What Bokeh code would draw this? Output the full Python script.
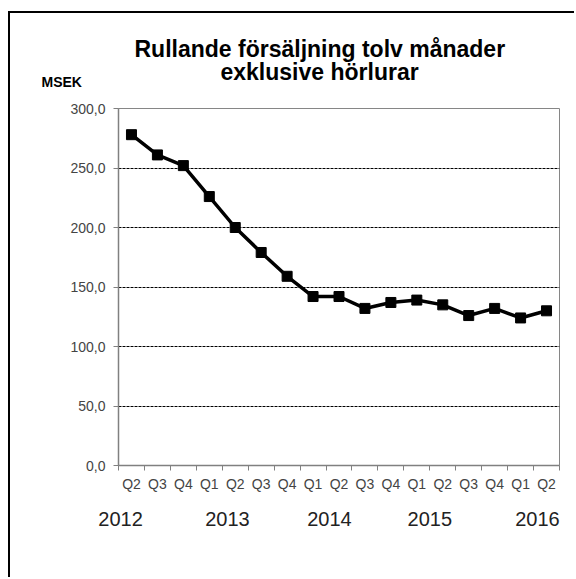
from bokeh.plotting import figure
from bokeh.models import FixedTicker, Range1d, Title, LinearAxis
from bokeh.embed import file_html
from bokeh.resources import INLINE
import numpy as np

quarters = ["Q2", "Q3", "Q4", "Q1", "Q2", "Q3", "Q4", "Q1", "Q2", "Q3", "Q4",
            "Q1", "Q2", "Q3", "Q4", "Q1", "Q2"]
sales = [278, 261, 252, 226, 200, 179, 159, 142, 142, 132, 137, 139, 135, 126, 132, 124, 130]
years = ["2012", "2013", "2014", "2015", "2016"]
year_pos = [-0.42, 3.7, 7.63, 11.5, 15.65]
y_ticks = [0, 50, 100, 150, 200, 250, 300]
unit_label = "MSEK"

x = np.arange(len(sales))

p = figure(width=566, height=566, output_backend="svg", toolbar_location=None,
           x_range=Range1d(-0.5, len(sales) - 0.5), y_range=Range1d(0, 300),
           min_border_left=108, min_border_right=17, min_border_top=95, min_border_bottom=114)
p.styles = {"border-top": "2px solid black", "border-left": "2px solid black",
            "margin-left": "8px", "margin-top": "11px"}
p.title.visible = False
p.background_fill_color = "white"
p.border_fill_color = "white"
p.outline_line_color = "#868686"
p.outline_line_width = 1

# grid
p.xgrid.visible = False
p.ygrid.ticker = FixedTicker(ticks=[50, 100, 150, 200, 250])
p.ygrid.grid_line_color = "black"
p.ygrid.grid_line_dash = "3 1"
p.ygrid.grid_line_width = 1

# y axis
p.yaxis.ticker = FixedTicker(ticks=y_ticks)
p.yaxis.major_label_overrides = {t: f"{t:.1f}".replace(".", ",") for t in y_ticks}
p.yaxis.major_tick_out = 5
p.yaxis.major_tick_in = 0
p.yaxis.minor_tick_out = 0
p.yaxis.minor_tick_in = 0
p.yaxis.major_label_standoff = 8
p.yaxis.axis_line_color = "#808080"
p.yaxis.axis_line_width = 1.5
p.yaxis.major_tick_line_color = "#808080"
p.yaxis.major_label_text_font = "Liberation Sans"
p.yaxis.major_label_text_font_size = "14px"
p.yaxis.major_label_text_color = "#444444"

# x axis (quarters)
centers = list(range(len(sales)))
bounds = [i - 0.5 for i in range(len(sales) + 1)]
p.xaxis.ticker = FixedTicker(ticks=centers, minor_ticks=bounds)
p.xaxis.major_label_overrides = {i: q for i, q in enumerate(quarters)}
p.xaxis.major_tick_out = 0
p.xaxis.major_tick_in = 0
p.xaxis.minor_tick_out = 5
p.xaxis.minor_tick_in = 0
p.xaxis.minor_tick_line_color = "#808080"
p.xaxis.major_label_standoff = 5
p.xaxis.axis_line_color = "#808080"
p.xaxis.axis_line_width = 1.5
p.xaxis.major_label_text_font = "Liberation Sans"
p.xaxis.major_label_text_font_size = "14px"
p.xaxis.major_label_text_color = "#444444"

# year axis
yax = LinearAxis(ticker=FixedTicker(ticks=year_pos, minor_ticks=[]),
                 major_label_overrides={pos: yr for pos, yr in zip(year_pos, years)})
yax.axis_line_color = None
yax.major_tick_line_color = None
yax.major_tick_out = 0
yax.major_tick_in = 0
yax.major_label_standoff = 17
yax.major_label_text_font = "Liberation Sans"
yax.major_label_text_font_size = "20px"
yax.major_label_text_color = "#222222"
p.add_layout(yax, "below")

# data
p.line(x, sales, line_color="black", line_width=3.5)
p.scatter(x, sales, marker="square", size=10, fill_color="black", line_color="black")

# titles (added nearest-first)
p.add_layout(Title(text="exklusive hörlurar", align="left", offset=102,
                   text_font="Liberation Sans", text_font_size="23px",
                   text_font_style="bold", text_color="black", standoff=47), "above")
p.add_layout(Title(text="Rullande försäljning tolv månader", align="left", offset=16,
                   text_font="Liberation Sans", text_font_size="23px",
                   text_font_style="bold", text_color="black", standoff=-56), "above")
p.add_layout(Title(text=unit_label, align="left", offset=-77,
                   text_font="Liberation Sans", text_font_size="14px",
                   text_font_style="bold", text_color="black", standoff=-112), "above")

open("out.html", "w").write(file_html(p, INLINE))
